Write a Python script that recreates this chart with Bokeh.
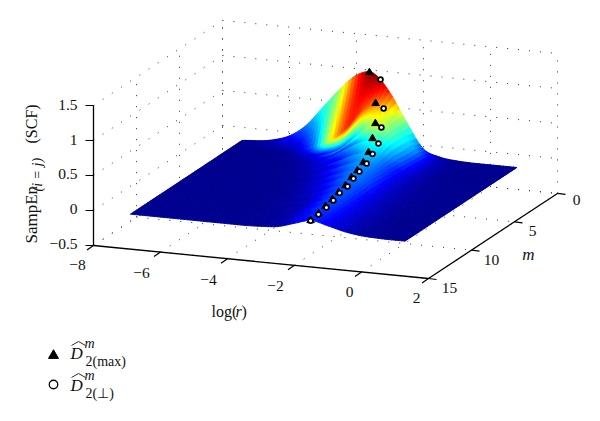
import numpy as np
from bokeh.plotting import figure, ColumnDataSource
from bokeh.models import Range1d
from bokeh.embed import file_html
from bokeh.resources import INLINE
from bokeh.core.properties import value

# ---------- data ----------
log_r_grid = [-6.9, -6, -5.5, -5, -4.5, -4, -3.5, -3, -2.5, -2, -1.5, -1, -0.5, 0, 0.5, 1.37]
m_rows = [2, 3, 4, 5, 6, 7, 8, 9, 10, 11, 12, 13, 14, 15]
sampen_m2  = [0, .05, .13, .30, .58, .86, 1.09, 1.15, .90, .50, .14, .04, .01, 0, 0, 0]
sampen_m3  = [0, 0, .01, .03, .09, .21, .42, .71, .79, .50, .20, .05, .01, 0, 0, 0]
sampen_m4  = [0, 0, 0, .01, .03, .085, .18, .39, .59, .50, .20, .06, .015, 0, 0, 0]
sampen_m5  = [0, 0, 0, 0, .01, .06, .16, .31, .43, .46, .22, .07, .02, 0, 0, 0]
sampen_m6  = [0, 0, 0, 0, .01, .04, .11, .21, .32, .37, .22, .08, .02, .005, 0, 0]
sampen_m7  = [0, 0, 0, 0, 0, .02, .07, .16, .26, .32, .22, .08, .025, .005, 0, 0]
sampen_m8  = [0, 0, 0, 0, 0, .01, .05, .12, .21, .285, .23, .09, .03, .01, 0, 0]
sampen_m9  = [0, 0, 0, 0, 0, .005, .03, .09, .17, .26, .24, .10, .03, .01, 0, 0]
sampen_m10 = [0, 0, 0, 0, 0, .005, .02, .06, .13, .22, .22, .10, .035, .01, 0, 0]
sampen_m11 = [0, 0, 0, 0, 0, 0, .015, .04, .09, .19, .22, .10, .04, .01, 0, 0]
sampen_m12 = [0, 0, 0, 0, 0, 0, .01, .03, .07, .17, .21, .11, .04, .012, 0, 0]
sampen_m13 = [0, 0, 0, 0, 0, 0, .01, .025, .06, .15, .20, .11, .045, .015, 0, 0]
sampen_m14 = [0, 0, 0, 0, 0, 0, .005, .02, .05, .13, .18, .11, .05, .015, 0, 0]
sampen_m15 = [0, 0, 0, 0, 0, 0, 0, .01, .03, .10, .163, .11, .05, .015, .003, 0]

# colour position (0..1 on the jet scale) for the four highest rows
shade_m2 = [.02, .06, .14, .24, .39, .52, .80, 1.0, .84, .50, .20, .06, .025, .017, .017, .017]
shade_m3 = [.017, .017, .025, .07, .24, .62, .84, .80, .72, .47, .28, .08, .03, .017, .017, .017]
shade_m4 = [.017, .017, .017, .03, .07, .17, .32, .45, .58, .48, .25, .09, .035, .017, .017, .017]
shade_m5 = [.017, .017, .017, .017, .03, .09, .17, .27, .38, .41, .24, .09, .03, .017, .017, .017]

tri_log_r = [-3.10, -2.66, -2.41, -2.24, -2.10, -2.00, -1.92, -1.84, -1.76, -1.71, -1.64, -1.59, -1.54, -1.52]
tri_value = [1.15, .81, .616, .49, .379, .32, .29, .276, .246, .23, .214, .20, .18, .163]
circ_log_r = [-2.77, -2.42, -2.23, -2.06, -1.98, -1.90, -1.86, -1.78, -1.70, -1.68, -1.61, -1.56, -1.54, -1.52]
circ_value = [1.066, .748, .566, .427, .363, .31, .28, .264, .234, .225, .20, .186, .166, .16]

r_ticks = [-8, -6, -4, -2, 0, 2]
m_ticks = [0, 5, 10, 15]
z_ticks = [-0.5, 0, 0.5, 1, 1.5]
r_tick_labels = ["−8", "−6", "−4", "−2", "0", "2"]
m_tick_labels = ["0", "5", "10", "15"]
z_tick_labels = ["−0.5", "0", "0.5", "1", "1.5"]

# ---------- projection (orthographic view of the 3-D box) ----------
def proj(r, m, z):
    r, m, z = np.asarray(r, float), np.asarray(m, float), np.asarray(z, float)
    return (93 + (r + 8) * 33.5 + (15 - m) * 8.6,
            245 + (r + 8) * 3.3 - (15 - m) * 5.67 - (z + 0.5) * 70)

def jet(t):
    t = np.clip(t, 0, 1)
    R = np.clip(1.5 - np.abs(4 * t - 3), 0, 1)
    G = np.clip(1.5 - np.abs(4 * t - 2), 0, 1)
    B = np.clip(1.5 - np.abs(4 * t - 1), 0, 1)
    return ["#%02x%02x%02x" % (int(a * 255), int(b * 255), int(c * 255)) for a, b, c in zip(R, G, B)]

def hermite(xg, yg, x):
    xg, yg = np.asarray(xg, float), np.asarray(yg, float)
    d = np.gradient(yg, xg)
    i = np.clip(np.searchsorted(xg, x) - 1, 0, len(xg) - 2)
    h = xg[i + 1] - xg[i]
    t = (x - xg[i]) / h
    return np.maximum(0, (2*t**3 - 3*t**2 + 1) * yg[i] + (t**3 - 2*t**2 + t) * h * d[i]
                      + (-2*t**3 + 3*t**2) * yg[i + 1] + (t**3 - t**2) * h * d[i + 1])

rows = [sampen_m2, sampen_m3, sampen_m4, sampen_m5, sampen_m6, sampen_m7, sampen_m8,
        sampen_m9, sampen_m10, sampen_m11, sampen_m12, sampen_m13, sampen_m14, sampen_m15]
shades = [shade_m2, shade_m3, shade_m4, shade_m5]

p = figure(width=584, height=405, output_backend="svg", toolbar_location=None,
           x_range=Range1d(0, 584), y_range=Range1d(405, 0), min_border=0,
           outline_line_color=None, background_fill_color="white")
p.axis.visible = False
p.grid.visible = False

# ---------- dotted grid on the walls and floor ----------
gx, gy = [], []
def seg(a, b):
    x, y = proj([a[0], b[0]], [a[1], b[1]], [a[2], b[2]])
    gx.append(list(x)); gy.append(list(y))
for z in z_ticks:
    seg((-8, 15, z), (-8, 0, z))
    seg((-8, 0, z), (2, 0, z))
for m in m_ticks:
    seg((-8, m, -0.5), (-8, m, 1.5))
    seg((-8, m, -0.5), (2, m, -0.5))
for r in r_ticks:
    seg((r, 0, -0.5), (r, 0, 1.5))
    seg((r, 15, -0.5), (r, 0, -0.5))
p.multi_line(gx, gy, line_color="#333333", line_width=1, line_dash="1 10")

# ---------- surface ----------
fine_r = np.arange(-6.9, 1.3701, 0.1)
Z = np.array([hermite(log_r_grid, row, fine_r) for row in rows])
C = []
for k, row in enumerate(rows):
    if k < len(shades):
        C.append(hermite(log_r_grid, shades[k], fine_r))
    else:
        C.append((Z[k] + 0.02) / 1.19)
C = np.array(C)
xs, ys, ts = [], [], []
for k in range(len(m_rows) - 1):
    N = 10 if k < 3 else (5 if k < 8 else 3)
    # colour fades toward the next crest on the side left of its peak
    w = np.clip((tri_log_r[k + 1] - fine_r) / 1.0, 0, 1)
    fade = 1.0 if k == 0 else 1 - 0.45 * w
    c_end = np.maximum(C[k + 1] * fade, 0.017)
    for s in range(N):
        t0, t1 = s / N, (s + 1) / N
        m0 = m_rows[k] + t0; m1 = m_rows[k] + t1
        z0 = Z[k] * (1 - t0) + Z[k + 1] * t0
        z1 = Z[k] * (1 - t1) + Z[k + 1] * t1
        c = C[k] * (1 - (t0 + t1) / 2) + c_end * (t0 + t1) / 2
        x0, y0 = proj(fine_r, m0, z0)
        x1, y1 = proj(fine_r, m1, z1)
        for j in range(len(fine_r) - 1):
            xs.append([x0[j], x0[j + 1], x1[j + 1], x1[j]])
            ys.append([y0[j], y0[j + 1], y1[j + 1], y1[j]])
            ts.append((c[j] + c[j + 1]) / 2)
cols = jet(np.array(ts))
p.patches("xs", "ys", source=ColumnDataSource(dict(xs=xs, ys=ys, c=cols)),
          fill_color="c", line_color="c", line_width=0.9)

# ---------- markers ----------
mm = np.array(m_rows)
tx, ty = proj(tri_log_r, mm, tri_value)
cx, cy = proj(circ_log_r, mm, circ_value)
p.scatter(tx, ty, marker="triangle", size=7.5, fill_color="black", line_color="black")
p.scatter(cx, cy, marker="circle", size=4.8, fill_color="white", line_color="black", line_width=1.8)

# ---------- axes ----------
ax = [proj([-8, -8], [15, 15], [-0.5, 1.5]), proj([-8, 2], [15, 15], [-0.5, -0.5]), proj([2, 2], [15, 0], [-0.5, -0.5])]
for x, y in ax:
    p.line(x, y, line_color="black", line_width=1.3)
FONT = value("Liberation Serif")
def txt(x, y, s, size=15.5, align="center", style="normal", angle=0.0, base="middle"):
    p.text([x], [y], text=[s], text_font=FONT, text_font_size=f"{size}px", text_align=align,
           text_baseline=base, text_font_style=style, text_color="#111111", angle=angle)

for z, lab, ly in zip(z_ticks, z_tick_labels, [243, 208, 173, 139, 104]):
    x, y = proj(-8, 15, z)
    p.line([x - 8, x], [y, y], line_color="black", line_width=1.2)
    txt(77, ly, lab, align="right")
for r, lab, lx, ly in zip(r_ticks, r_tick_labels, [77, 141, 208, 275, 349, 416], [264, 272, 279, 285, 291, 297]):
    x, y = proj(r, 15, -0.5)
    p.line([x, x - 6.5], [y, y + 4.5], line_color="black", line_width=1.2)
    txt(lx, ly, lab)
for m, lab, lx, ly in zip(m_ticks, m_tick_labels, [576, 532, 491, 449], [199, 230, 259, 287]):
    x, y = proj(2, m, -0.5)
    p.line([x, x + 8], [y, y + 1], line_color="black", line_width=1.2)
    txt(lx, ly, lab)

txt(528, 254, "m", size=17, style="italic")
txt(211, 311, "log(", align="left", size=16)
txt(235, 311, "r", align="left", size=16, style="italic")
txt(241, 311, ")", align="left", size=16)

A = np.pi / 2
txt(31, 243, "SampEn", align="left", angle=A, size=17)
txt(37, 191, "(i = j)", align="left", angle=A, size=14, style="italic")
txt(31, 143, "(SCF)", align="left", angle=A, size=16)

# ---------- legend ----------
p.scatter([53], [355], marker="triangle", size=10, fill_color="black", line_color="black")
p.scatter([53], [384], marker="circle", size=8.5, fill_color="white", line_color="black", line_width=1.3)
for yc, sub in ((353, "2(max)"), (385, "2(⊥)")):
    txt(70, yc, "D", align="left", size=17, style="italic")
    p.line([71, 78, 85], [yc - 8, yc - 12, yc - 8], line_color="#111111", line_width=0.9)
    txt(84, yc - 10, "m", align="left", size=14, style="italic")
    txt(85, yc + 8, sub, align="left", size=14)

open("out.html", "w").write(file_html(p, INLINE))
